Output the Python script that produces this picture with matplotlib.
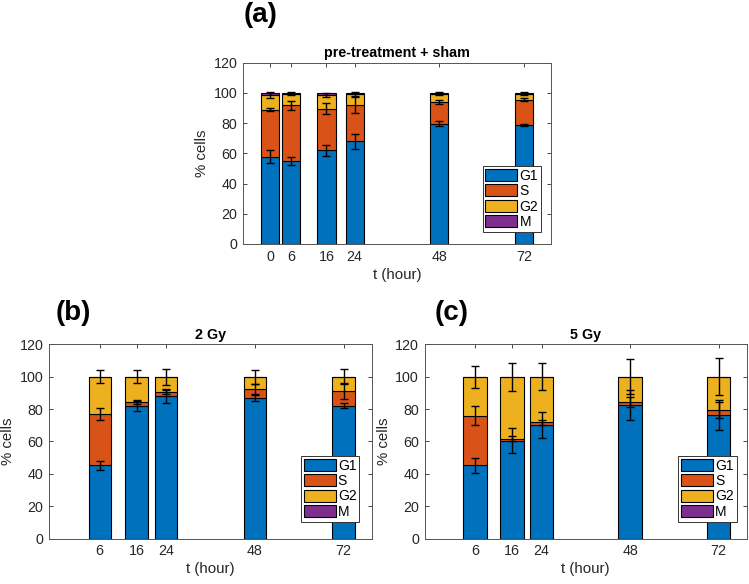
import matplotlib
matplotlib.use("Agg")
import matplotlib.pyplot as plt
import numpy as np

plt.rcParams["font.family"] = ["Liberation Sans", "DejaVu Sans"]

phases = ["G1", "S", "G2", "M"]
colors = ["#0072BD", "#D95319", "#EDB120", "#7E2F8E"]

# (a) pre-treatment + sham
a_times = [0, 6, 16, 24, 48, 72]
a_g1 = [57.9, 55.0, 62.0, 67.9, 79.5, 78.8]
a_s = [31.0, 36.7, 27.5, 24.2, 14.4, 16.8]
a_g2 = [9.8, 7.9, 9.2, 7.2, 5.7, 4.0]
a_m = [1.3, 0.4, 1.3, 0.7, 0.4, 0.4]
a_err_g1 = [4.0, 2.6, 3.7, 5.2, 1.7, 0.8]
a_err_s = [1.0, 3.0, 3.7, 5.5, 1.4, 1.0]
a_err_g2 = [2.2, 1.0, 1.2, 1.5, 1.0, 1.0]

# (b) 2 Gy
b_times = [6, 16, 24, 48, 72]
b_g1 = [45.2, 82.0, 87.8, 86.8, 82.0]
b_s = [31.7, 2.1, 2.9, 5.6, 9.3]
b_g2 = [23.1, 15.9, 9.3, 7.6, 8.7]
b_m = [0.0, 0.0, 0.0, 0.0, 0.0]
b_err_g1 = [2.6, 3.5, 4.3, 1.9, 1.5]
b_err_s = [3.6, 1.0, 1.3, 3.0, 5.0]
b_err_g2 = [3.9, 4.1, 5.0, 4.4, 4.5]

# (c) 5 Gy
c_times = [6, 16, 24, 48, 72]
c_g1 = [45.2, 60.4, 70.2, 82.5, 76.4]
c_s = [30.8, 1.4, 1.5, 1.7, 3.1]
c_g2 = [24.0, 38.0, 28.3, 15.8, 20.5]
c_m = [0.0, 0.2, 0.0, 0.0, 0.0]
c_err_g1 = [4.6, 7.7, 8.0, 9.5, 9.3]
c_err_s = [5.6, 1.5, 1.5, 3.0, 5.0]
c_err_g2 = [6.9, 8.4, 8.5, 11.0, 11.5]

axis_col = "#262626"


def panel(ax, times, parts, errs, width, title, leg_xy):
    bottom = np.zeros(len(times))
    tops = []
    for vals, col, name in zip(parts, colors, phases):
        ax.bar(times, vals, width=width, bottom=bottom, color=col,
               edgecolor="black", linewidth=0.8, label=name, zorder=2)
        bottom = bottom + np.array(vals)
        tops.append(bottom.copy())
    for top, err in zip(tops[:3], errs):
        ax.errorbar(times, top, yerr=err, fmt="none", ecolor="black",
                    elinewidth=1.0, capsize=3, capthick=1.0, zorder=3)
    ax.set_xlim(-7.7, 79.7)
    ax.set_ylim(0, 120)
    ax.set_xticks(times)
    ax.set_yticks(range(0, 121, 20))
    ax.tick_params(direction="in", length=3, width=0.6, top=True, right=True,
                   labelsize=10.3, colors=axis_col, labelcolor=axis_col, pad=4)
    for sp in ax.spines.values():
        sp.set_color("#555555")
        sp.set_linewidth(0.7)
    ax.set_xlabel("t (hour)", fontsize=10.8, color=axis_col, labelpad=3)
    ax.set_ylabel("% cells", fontsize=10.8, color=axis_col, labelpad=3)
    ax.set_title(title, fontsize=10.3, fontweight="bold", pad=4)
    leg = ax.legend(loc="lower left", bbox_to_anchor=leg_xy, fontsize=10,
                    handlelength=2.3, handleheight=0.95, labelspacing=0.1,
                    handletextpad=0.15, borderpad=0.2, borderaxespad=0,
                    fancybox=False, framealpha=1, edgecolor="#333333")
    leg.get_frame().set_linewidth(0.7)
    for h in leg.legend_handles:
        h.set_edgecolor("black")
        h.set_linewidth(0.8)


fig = plt.figure(figsize=(7.49, 5.84), dpi=100)
ax_a = fig.add_axes([0.3244, 0.5822, 0.4112, 0.3104])
ax_b = fig.add_axes([0.0654, 0.0779, 0.4313, 0.3325])
ax_c = fig.add_axes([0.5668, 0.0779, 0.4306, 0.3325])

panel(ax_a, a_times, [a_g1, a_s, a_g2, a_m], [a_err_g1, a_err_s, a_err_g2],
      5.2, "pre-treatment + sham", (0.778, 0.068))
panel(ax_b, b_times, [b_g1, b_s, b_g2, b_m], [b_err_g1, b_err_s, b_err_g2],
      6.0, "2 Gy", (0.78, 0.087))
panel(ax_c, c_times, [c_g1, c_s, c_g2, c_m], [c_err_g1, c_err_s, c_err_g2],
      6.4, "5 Gy", (0.787, 0.087))

fig.text(261 / 749, 1 - 15 / 584, "(a)", fontsize=20, fontweight="bold",
         ha="center", va="center")
fig.text(73 / 749, 1 - 313 / 584, "(b)", fontsize=20, fontweight="bold",
         ha="center", va="center")
fig.text(452 / 749, 1 - 313 / 584, "(c)", fontsize=20, fontweight="bold",
         ha="center", va="center")

fig.savefig("out.png", dpi=100)
